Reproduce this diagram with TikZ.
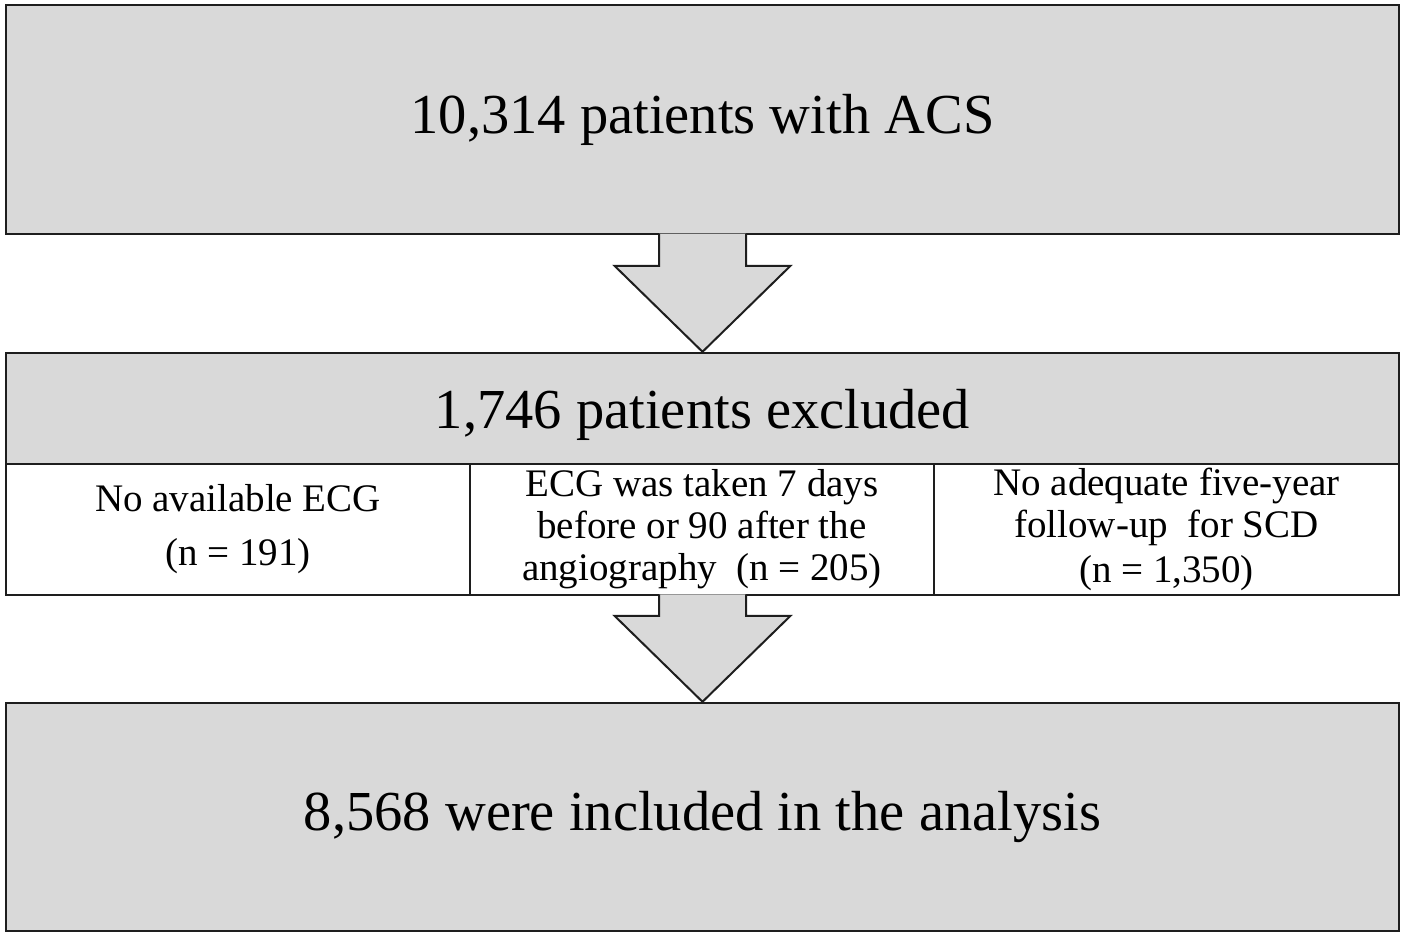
\documentclass[tikz,border=0pt]{standalone}
\usepackage{fontspec}
\setmainfont{Liberation Serif}
\definecolor{flowGray}{RGB}{217,217,217}
\definecolor{flowLine}{RGB}{30,30,30}
\usetikzlibrary{calc}

\begin{document}
\begin{tikzpicture}[x=1pt, y=1pt,
    fb/.style={rectangle, draw=flowLine, line width=2.4pt, fill=flowGray, minimum width=1393pt,
               align=center, inner sep=0pt, font=\fontsize{56.5}{60}\selectfont},
    cb/.style={rectangle, draw=flowLine, line width=2pt, fill=white, minimum height=131pt,
               align=center, inner sep=0pt, font=\fontsize{39}{42}\selectfont},
    da/.style={draw=flowLine, fill=flowGray, line width=2pt, line join=miter}
  ]
  \useasboundingbox (0,0) rectangle (1405,937);

  \node[fb, minimum height=229pt] (cohort) at (702.5,817.5) {10,314 patients with ACS};
  \node[fb, minimum height=111pt, text height=46pt, text depth=6pt] (excl) at (702.5,528.5)
    {1,746 patients excluded};
  \node[cb, minimum width=464pt] (ecg) at (238,407.5) {No available ECG\\[12pt](n = 191)};
  \node[cb, minimum width=464pt] (timing) at (702,407.5)
    {ECG was taken 7 days\\before or 90 after the\\angiography\ \ (n = 205)};
  \node[cb, minimum width=465pt] (follow) at (1166.5,407.5)
    {No adequate five-year\\follow-up\ \ for SCD\\[3pt](n = 1,350)};
  \node[fb, minimum height=228pt] (incl) at (702.5,120) {8,568 were included in the analysis};

  % block arrows between the stages
  \filldraw[da] ($(cohort.south)+(-43.5,1.5)$) -- ($(excl.north)+(-43.5,86)$)
    -- ($(excl.north)+(-88,86)$) -- (excl.north) -- ($(excl.north)+(88,86)$)
    -- ($(excl.north)+(43.5,86)$) -- ($(cohort.south)+(43.5,1.5)$);
  \filldraw[da] ($(timing.south)+(0.5,1.5)+(-43.5,0)$) -- ($(incl.north)+(-43.5,86)$)
    -- ($(incl.north)+(-88,86)$) -- (incl.north) -- ($(incl.north)+(88,86)$)
    -- ($(incl.north)+(43.5,86)$) -- ($(timing.south)+(0.5,1.5)+(43.5,0)$);
\end{tikzpicture}
\end{document}
